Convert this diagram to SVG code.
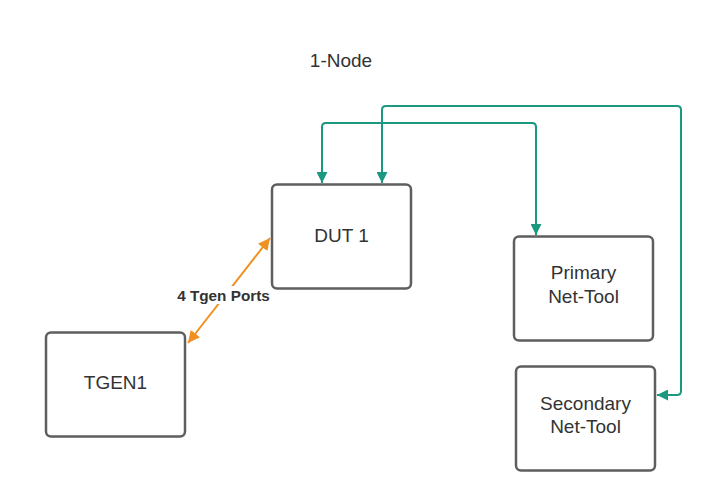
<svg xmlns="http://www.w3.org/2000/svg" width="712" height="492" viewBox="0 0 712 492">
<style>
.box{fill:#fff;stroke:#5e5e5e;stroke-width:2.5}
.t{font-family:"Liberation Sans",Arial,sans-serif;font-size:19px;fill:#333;text-anchor:middle}
.teal{fill:none;stroke:#1a9880;stroke-width:2}
.orange{fill:none;stroke:#f0901e;stroke-width:2}
</style>
<defs>
<marker id="at" viewBox="0 0 10 10" refX="10" refY="5" markerWidth="11" markerHeight="11" markerUnits="userSpaceOnUse" orient="auto-start-reverse"><path d="M0,0L10,5L0,10z" fill="#1a9880"/></marker>
<marker id="ao" viewBox="0 0 10 10" refX="10" refY="5" markerWidth="12" markerHeight="12" markerUnits="userSpaceOnUse" orient="auto-start-reverse"><path d="M0,0L10,5L0,10z" fill="#f0901e"/></marker>
</defs>
<rect width="712" height="492" fill="#fff"/>
<text class="t" x="341" y="66.5">1-Node</text>
<g id="connectors">
<path class="teal" d="M322,183V127Q322,123 326,123H532Q536,123 536,127V235" marker-start="url(#at)" marker-end="url(#at)"/>
<path class="teal" d="M382,183V110Q382,106 386,106H677Q681,106 681,110V391Q681,395 677,395H657" marker-start="url(#at)" marker-end="url(#at)"/>
<path class="orange" d="M188,343L270,238" marker-start="url(#ao)" marker-end="url(#ao)"/>
<rect x="176" y="286" width="96" height="18" fill="#fff"/>
<text x="223.5" y="301" font-family="'Liberation Sans',Arial,sans-serif" font-size="15.3" font-weight="bold" fill="#333" text-anchor="middle">4 Tgen Ports</text>
</g>
<g id="dut1"><rect class="box" x="272" y="184.5" width="139" height="104" rx="5"/><text class="t" x="341.5" y="242">DUT 1</text></g>
<g id="primary"><rect class="box" x="514" y="236.5" width="139" height="104" rx="5"/><text class="t" x="583.5" y="279">Primary</text><text class="t" x="583.5" y="303">Net-Tool</text></g>
<g id="secondary"><rect class="box" x="516" y="366.5" width="139" height="104" rx="5"/><text class="t" x="585.5" y="410">Secondary</text><text class="t" x="585.5" y="433">Net-Tool</text></g>
<g id="tgen1"><rect class="box" x="46" y="332.5" width="139" height="104" rx="5"/><text class="t" x="115.5" y="389">TGEN1</text></g>
</svg>
